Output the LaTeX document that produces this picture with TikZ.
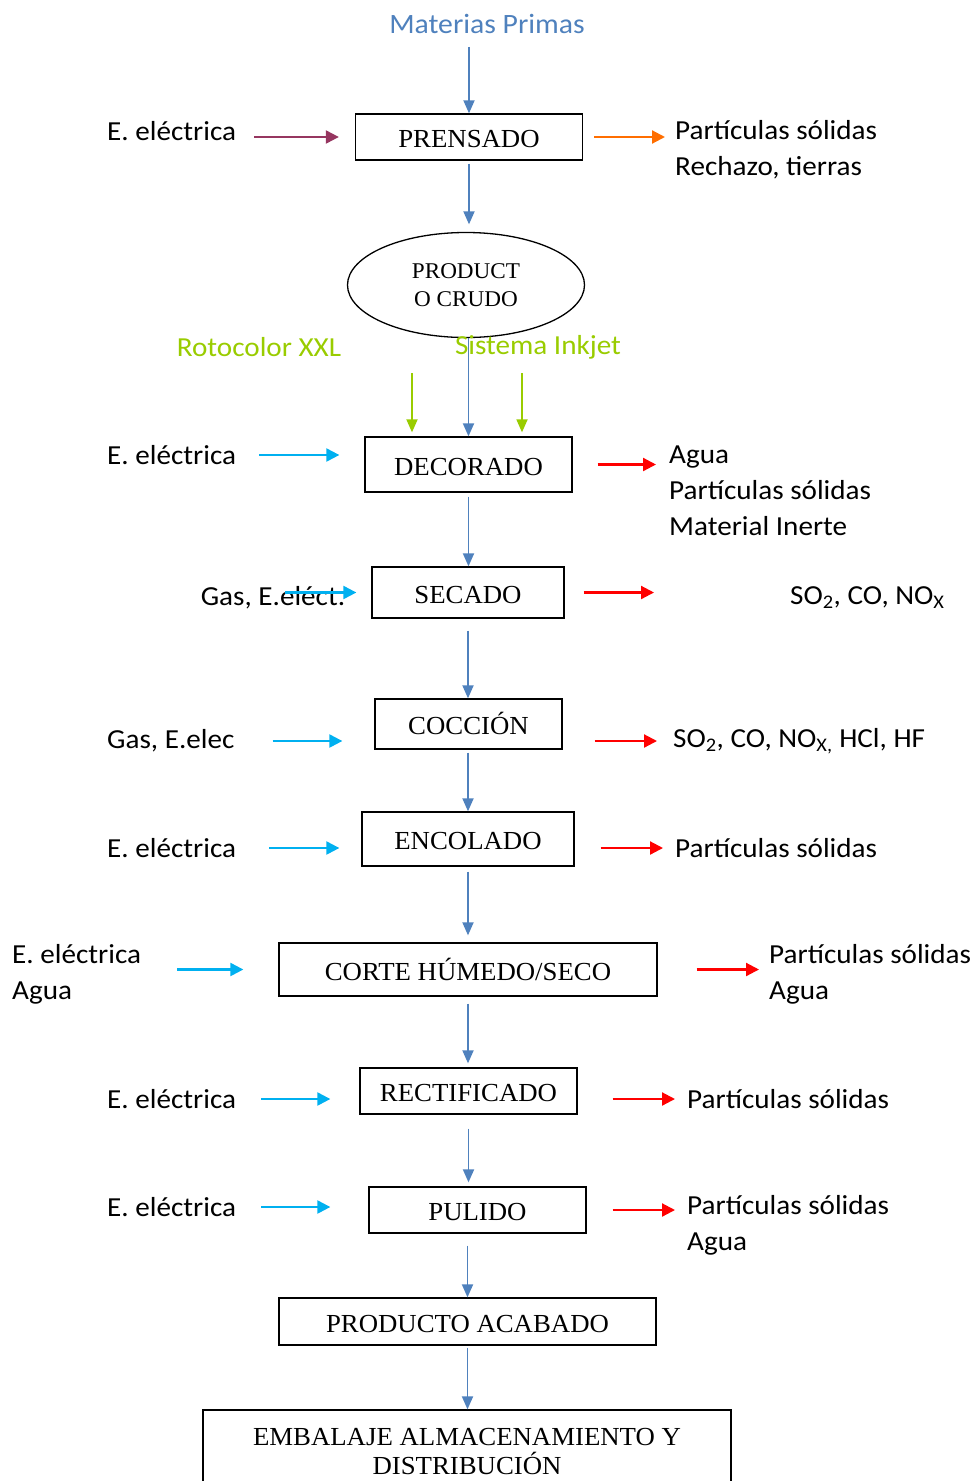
\documentclass[tikz,border=0pt]{standalone}
\usepackage{fontspec}
\usetikzlibrary{arrows.meta,shapes.geometric}
\newfontfamily\lblfont[FakeStretch=1.06]{Carlito}
\newfontfamily\boxfont[FakeStretch=1.03]{Liberation Serif}
\definecolor{flowblue}{RGB}{79,129,189}
\definecolor{eleccyan}{RGB}{0,176,240}
\definecolor{decogreen}{RGB}{153,204,0}
\definecolor{pressviolet}{RGB}{150,54,96}
\definecolor{dustorange}{RGB}{255,110,0}

\begin{document}
\begin{tikzpicture}[x=1pt,y=-1pt,
  proc/.style={draw,line width=1.3pt,inner sep=0pt,align=center,text height=22pt,
    font=\boxfont\fontsize{26}{29}\selectfont},
  lbl/.style={inner sep=0pt,align=left,font=\lblfont\fontsize{27.5}{36}\selectfont},
  flow/.style={draw=flowblue,line width=1.8pt,-{Triangle[length=13pt,width=11pt]}},
  inarr/.style={draw=eleccyan,line width=2.2pt,-{Triangle[length=13pt,width=13pt]}},
  outarr/.style={draw=red,line width=2.2pt,-{Triangle[length=13pt,width=13pt]}},
  deco/.style={draw=decogreen,line width=1.8pt,-{Triangle[length=13pt,width=11pt]}}]
\useasboundingbox (0,0) rectangle (974,1481);
% process boxes
\node[lbl,text=flowblue,font=\lblfont\fontsize{28}{34}\selectfont] (mp) at (487,24) {Materias Primas};
\node[proc,minimum width=227,minimum height=46] (prensado) at (469,137) {PRENSADO};
\node[draw,ellipse,line width=1.3pt,inner sep=0pt,minimum width=237,minimum height=105,
  align=center,font=\boxfont\fontsize{22.5}{28}\selectfont] (crudo) at (466,285) {PRODUCT\\O CRUDO};
\node[proc,minimum width=207,minimum height=55] (decorado) at (468.5,464.5) {DECORADO};
\node[proc,minimum width=192,minimum height=51] (secado) at (468,592.5) {SECADO};
\node[proc,minimum width=187,minimum height=50] (coccion) at (468.5,724) {COCCIÓN};
\node[proc,minimum width=212,minimum height=54] (encolado) at (468,839) {ENCOLADO};
\node[proc,minimum width=378,minimum height=53] (corte) at (468,969.5) {CORTE HÚMEDO/SECO};
\node[proc,minimum width=217,minimum height=46] (rectificado) at (468.5,1091) {RECTIFICADO};
\node[proc,minimum width=217,minimum height=46] (pulido) at (477.5,1210) {PULIDO};
\node[proc,minimum width=377,minimum height=47] (acabado) at (467.5,1321.5) {PRODUCTO ACABADO};
\node[draw,line width=1.3pt,inner sep=0pt,align=center,font=\boxfont\fontsize{26}{29}\selectfont,
  minimum width=528,minimum height=83] (embalaje) at (467,1451.5) {EMBALAJE ALMACENAMIENTO Y\\DISTRIBUCIÓN};
% inputs and outputs
\node[lbl,anchor=west] (elec1) at (107,131) {E. eléctrica};
\node[lbl,anchor=west] (out1) at (675,150) {Partículas sólidas\\Rechazo, tierras};
\node[lbl,text=decogreen] (roto) at (259,347) {Rotocolor XXL};
\node[lbl,text=decogreen] (inkjet) at (538,347) {Sistema Inkjet};
\node[lbl,anchor=west] (elec2) at (107,455) {E. eléctrica};
\node[lbl,anchor=west] (out2) at (669,490.5) {Agua\\Partículas sólidas\\Material Inerte};
\node[lbl] (gas1) at (273,598) {Gas, E.eléct.};
\node[lbl,anchor=west] (out3) at (790,598) {SO\textsubscript{2}, CO, NO\textsubscript{X}};
\node[lbl,anchor=west] (gas2) at (107,741) {Gas, E.elec};
\node[lbl,anchor=west] (out4) at (673,741) {SO\textsubscript{2}, CO, NO\textsubscript{X,} HCl, HF};
\node[lbl,anchor=west] (elec3) at (107,848) {E. eléctrica};
\node[lbl,anchor=west] (out5) at (675,848) {Partículas sólidas};
\node[lbl,anchor=west] (elec4) at (12,974) {E. eléctrica\\Agua};
\node[lbl,anchor=west] (out6) at (769,974) {Partículas sólidas\\Agua};
\node[lbl,anchor=west] (elec5) at (107,1099) {E. eléctrica};
\node[lbl,anchor=west] (out7) at (687,1099) {Partículas sólidas};
\node[lbl,anchor=west] (elec6) at (107,1207) {E. eléctrica};
\node[lbl,anchor=west] (out8) at (687,1225) {Partículas sólidas\\Agua};
\coordinate (g1) at (412,373);
\coordinate (g2) at (522,373);
% main line
\draw[flow,shorten <=13pt] (prensado.north |- mp.south) -- (prensado.north);
\draw[flow,shorten <=3pt,shorten >=7.5pt] (prensado.south) -- (prensado.south |- crudo.north);
\draw[flow] (crudo.south -| decorado.north) -- (decorado.north);
\draw[flow,shorten <=4pt] (decorado.south) -- (decorado.south |- secado.north);
\draw[flow,shorten <=12pt] (secado.south) -- (secado.south |- coccion.north);
\draw[flow,shorten <=3pt] (coccion.south -| secado.south) -- (secado.south |- encolado.north);
\draw[flow,shorten <=5pt,shorten >=7pt] (encolado.south) -- (corte.north);
\draw[flow,shorten <=7pt,shorten >=4pt] (corte.south) -- (corte.south |- rectificado.north);
\draw[flow,shorten <=14pt,shorten >=4pt] (rectificado.south) -- (rectificado.south |- pulido.north);
\draw[flow,shorten <=12pt] (pulido.south -| acabado.north) -- (acabado.north);
\draw[flow,shorten <=2pt] (acabado.south) -- (acabado.south |- embalaje.north);
\draw[deco,shorten >=4pt] (g1) -- (g1 |- decorado.north);
\draw[deco,shorten >=4pt] (g2) -- (g2 |- decorado.north);
% side arrows
\draw[draw=pressviolet,line width=2.2pt,-{Triangle[length=13pt,width=13pt]},shorten <=18pt,shorten >=16pt]
  (prensado.west -| elec1.east) -- (prensado.west);
\draw[draw=dustorange,line width=2.2pt,-{Triangle[length=13pt,width=13pt]},shorten <=11pt,shorten >=10pt]
  (prensado.east) -- (prensado.east -| out1.west);
\draw[inarr,shorten <=23pt,shorten >=25pt] (elec2.east) -- (elec2.east -| decorado.west);
\draw[outarr,shorten <=25pt,shorten >=13pt] (decorado.east) -- (decorado.east -| out2.west);
\draw[inarr,shorten <=12pt,shorten >=15pt] (gas1.center |- secado.west) -- (secado.west);
\draw[outarr,shorten <=19pt,shorten >=136pt] (secado.east) -- (secado.east -| out3.west);
\draw[inarr,shorten <=38pt,shorten >=32pt] (gas2.east) -- (gas2.east -| coccion.west);
\draw[outarr,shorten <=32pt,shorten >=16pt] (coccion.east |- out4.west) -- (out4.west);
\draw[inarr,shorten <=33pt,shorten >=22pt] (elec3.east) -- (elec3.east -| encolado.west);
\draw[outarr,shorten <=26pt,shorten >=12pt] (encolado.east |- out5.west) -- (out5.west);
\draw[inarr,shorten <=36pt,shorten >=35pt] (corte.west -| elec4.east) -- (corte.west);
\draw[outarr,shorten <=39pt,shorten >=10pt] (corte.east) -- (corte.east -| out6.west);
\draw[inarr,shorten <=25pt,shorten >=29pt] (elec5.east) -- (elec5.east -| rectificado.west);
\draw[outarr,shorten <=35pt,shorten >=12pt] (rectificado.east |- out7.west) -- (out7.west);
\draw[inarr,shorten <=25pt,shorten >=38pt] (elec6.east) -- (elec6.east -| pulido.west);
\draw[outarr,shorten <=26pt,shorten >=12pt] (pulido.east) -- (pulido.east -| out8.west);
\end{tikzpicture}
\end{document}
